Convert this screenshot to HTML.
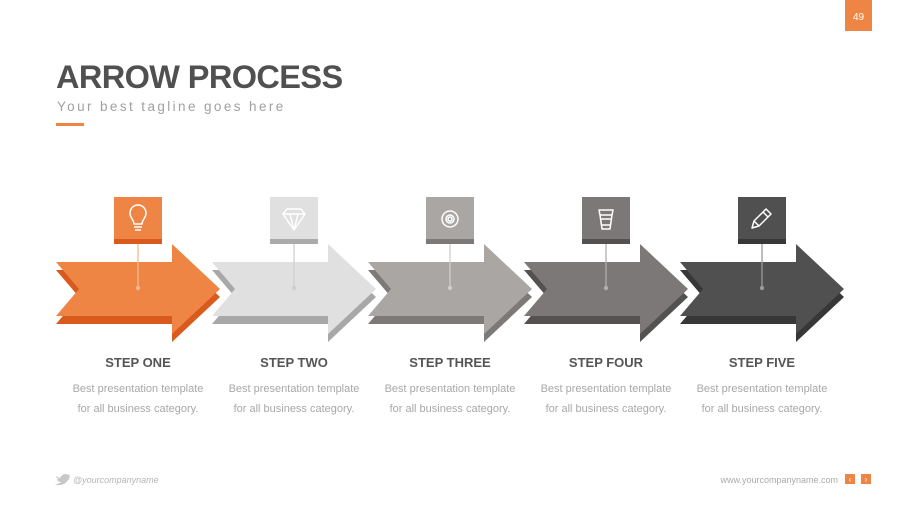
<!DOCTYPE html>
<html><head><meta charset="utf-8"><style>
body{margin:0;width:900px;height:506px;background:#fff;overflow:hidden;font-family:"Liberation Sans",sans-serif}
</style></head><body>
<svg width="900" height="506" viewBox="0 0 900 506" xmlns="http://www.w3.org/2000/svg" font-family="Liberation Sans, sans-serif">
<rect x="845" y="0" width="27" height="31" fill="#ee8545"/>
<text x="858.5" y="20" font-size="10" fill="#fff" text-anchor="middle">49</text>
<text x="56" y="88" font-size="32.5" font-weight="bold" fill="#505050" letter-spacing="-0.6">ARROW PROCESS</text>
<text x="57" y="111" font-size="13.5" fill="#a0a0a0" letter-spacing="2.4">Your best tagline goes here</text>
<rect x="56" y="123" width="28" height="3" fill="#ee8545"/>
<defs>
<path id="ar" d="M0,0 L116,0 L116,-18 L164,27 L116,72 L116,54 L0,54 L23,27 Z"/>
</defs>
<g transform="translate(56,262)">
<use href="#ar" y="8" fill="#d85a1c"/><use href="#ar" fill="#ee8545"/></g>
<g transform="translate(212,262)">
<use href="#ar" y="8" fill="#a8a8a8"/><use href="#ar" fill="#e0e0e0"/></g>
<g transform="translate(368,262)">
<use href="#ar" y="8" fill="#7c7978"/><use href="#ar" fill="#a9a6a4"/></g>
<g transform="translate(524,262)">
<use href="#ar" y="8" fill="#545251"/><use href="#ar" fill="#7b7877"/></g>
<g transform="translate(680,262)">
<use href="#ar" y="8" fill="#373737"/><use href="#ar" fill="#515050"/></g>
<g>
<rect x="114" y="197" width="48" height="47" fill="#ee8545"/><rect x="114" y="239" width="48" height="5" fill="#d85a1c"/>
<rect x="270" y="197" width="48" height="47" fill="#e0e0e0"/><rect x="270" y="239" width="48" height="5" fill="#ababab"/>
<rect x="426" y="197" width="48" height="47" fill="#a9a6a4"/><rect x="426" y="239" width="48" height="5" fill="#7c7978"/>
<rect x="582" y="197" width="48" height="47" fill="#7b7877"/><rect x="582" y="239" width="48" height="5" fill="#545251"/>
<rect x="738" y="197" width="48" height="47" fill="#515050"/><rect x="738" y="239" width="48" height="5" fill="#373737"/>
</g>
<g stroke-width="1.3">
<line x1="138" y1="244" x2="138" y2="288" stroke="#f3b891"/><circle cx="138" cy="288" r="2.2" fill="#f3b891"/>
<line x1="294" y1="244" x2="294" y2="288" stroke="#cfcfcf"/><circle cx="294" cy="288" r="2.2" fill="#cfcfcf"/>
<line x1="450" y1="244" x2="450" y2="288" stroke="#cfcdcc"/><circle cx="450" cy="288" r="2.2" fill="#cfcdcc"/>
<line x1="606" y1="244" x2="606" y2="288" stroke="#b0aeae"/><circle cx="606" cy="288" r="2.2" fill="#b0aeae"/>
<line x1="762" y1="244" x2="762" y2="288" stroke="#9a9a9a"/><circle cx="762" cy="288" r="2.2" fill="#9a9a9a"/>
</g>
<g fill="none" stroke="#fff" stroke-width="1.5" stroke-linejoin="round">
<path d="M134,224 C134,220 130,218 130,213 A8,8 0 0 1 146,213 C146,218 142,220 142,224 Z"/><line x1="134" y1="227" x2="142" y2="227"/><line x1="135" y1="230" x2="141" y2="230"/>
<path d="M287,209 L301,209 L305,214 L294,230 L283,214 Z M283,214 L305,214 M290,214 L294,230 L298,214"/>
<circle cx="450" cy="219" r="8"/><circle cx="450" cy="219" r="4"/><circle cx="450" cy="219" r="2"/>
<path d="M599,210 L613,210 L612,215 L600,215 Z M600,215 L602,229 L610,229 L612,215 M601,219 L611,219 M601,225 L611,225"/>
<path d="M752,228 L754,221 L766,209 L771,214 L759,226 Z M754,221 L759,226 M763,212 L768,217"/>
</g>
<g font-size="13" font-weight="bold" fill="#555" text-anchor="middle">
<text x="138" y="367">STEP ONE</text><text x="294" y="367">STEP TWO</text><text x="450" y="367">STEP THREE</text><text x="606" y="367">STEP FOUR</text><text x="762" y="367">STEP FIVE</text>
</g>
<g font-size="11" fill="#a8a8a8" text-anchor="middle">
<text x="138" y="392">Best presentation template</text><text x="138" y="412">for all business category.</text>
<text x="294" y="392">Best presentation template</text><text x="294" y="412">for all business category.</text>
<text x="450" y="392">Best presentation template</text><text x="450" y="412">for all business category.</text>
<text x="606" y="392">Best presentation template</text><text x="606" y="412">for all business category.</text>
<text x="762" y="392">Best presentation template</text><text x="762" y="412">for all business category.</text>
</g>
<path d="M56,476 L60,478 C62,474 66,473 68,475 L70,474 L69,476 L70,476 C68,484 60,487 55,484 C58,484 60,483 61,482 C58,482 57,480 57,479 L59,479 C57,478 56,477 56,476 Z" fill="#c8c8c8"/>
<text x="73" y="483" font-size="9" font-style="italic" fill="#b5b5b5">@yourcompanyname</text>
<text x="838" y="483" font-size="9" fill="#aaa" text-anchor="end">www.yourcompanyname.com</text>
<rect x="845" y="474" width="10" height="10" fill="#ee8545"/><rect x="861" y="474" width="10" height="10" fill="#ee8545"/>
<text x="850" y="482" font-size="8" fill="#fff" text-anchor="middle">‹</text><text x="866" y="482" font-size="8" fill="#fff" text-anchor="middle">›</text>
</svg>
</body></html>
